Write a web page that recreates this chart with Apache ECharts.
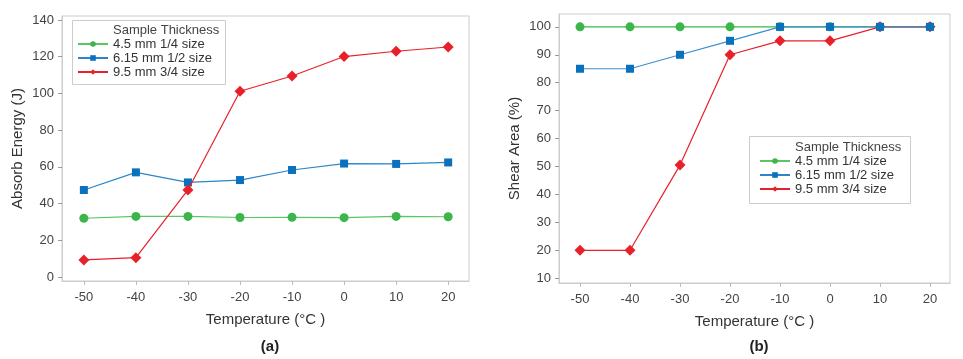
<!DOCTYPE html>
<html><head><meta charset="utf-8">
<script src="https://cdn.jsdelivr.net/npm/echarts@6/dist/echarts.min.js"></script>
<style>html,body{margin:0;padding:0;background:#fff}#c{width:963px;height:359px}</style>
</head><body><div id="c"></div>
<script>
var temps = [-50, -40, -30, -20, -10, 0, 10, 20];
var energy45 = [32, 33, 33, 32.4, 32.5, 32.3, 33, 32.8];
var energy615 = [47.4, 57, 51.5, 52.8, 58.3, 61.8, 61.6, 62.4];
var energy95 = [9.3, 10.5, 47.4, 101.2, 109.5, 120.1, 123, 125.3];
var shear45 = [100, 100, 100, 100, 100, 100, 100, 100];
var shear615 = [85, 85, 90, 95, 100, 100, 100, 100];
var shear95 = [20, 20, 50.5, 90, 95, 95, 100, 100];
var xTicks = [-50, -40, -30, -20, -10, 0, 10, 20];
var energyTicks = [0, 20, 40, 60, 80, 100, 120, 140];
var shearTicks = [10, 20, 30, 40, 50, 60, 70, 80, 90, 100];
var names = ['4.5 mm 1/4 size', '6.15 mm 1/2 size', '9.5 mm 3/4 size'];

function pairs(v){ return temps.map(function(t,i){ return [t, v[i]]; }); }
var FONT = 'Liberation Sans, Arial, sans-serif';
var GREEN = '#3cb54a', BLUE = '#0a72bd', RED = '#e8202a';
var labelStyle = {color:'#444', fontSize:13, fontFamily:FONT};
function xAxis(gi){
  return {type:'value', gridIndex:gi, min:-54.2, max:24.0,
    name:'Temperature (°C )', nameLocation:'middle', nameGap:31,
    nameTextStyle:{color:'#333', fontSize:15, fontFamily:FONT},
    axisLine:{show:true, onZero:false, lineStyle:{color:'#ccc'}},
    axisTick:{show:true, length:4, lineStyle:{color:'#bbb'}, customValues:xTicks},
    axisLabel:Object.assign({margin:10, customValues:xTicks}, labelStyle),
    splitLine:{show:false}};
}
function yAxis(gi, min, max, ticks, name){
  return {type:'value', gridIndex:gi, min:min, max:max,
    name:name, nameLocation:'middle', nameGap:37,
    nameTextStyle:{color:'#333', fontSize:15, fontFamily:FONT},
    axisLine:{show:true, onZero:false, lineStyle:{color:'#ccc'}},
    axisTick:{show:true, length:4, lineStyle:{color:'#999'}, customValues:ticks},
    axisLabel:Object.assign({margin:8, customValues:ticks}, labelStyle),
    splitLine:{show:false}};
}
function ser(name, gi, data, color, lineColor, symbol, size, z){
  return {type:'line', name:name, xAxisIndex:gi, yAxisIndex:gi, data:pairs(data),
    symbol:symbol, symbolSize:size, showAllSymbol:true, z:z,
    itemStyle:{color:color}, lineStyle:{color:lineColor, width:1.2}, emphasis:{disabled:true}};
}
var legendCommon = {orient:'vertical', itemWidth:30, itemHeight:7, itemGap:0, data:names, z:20,
  textStyle:{color:'#333', fontSize:13, lineHeight:14, fontFamily:FONT}, padding:0, selectedMode:false};

var chart = echarts.init(document.getElementById('c'), null, {renderer:'canvas'});
chart.setOption({
  animation:false,
  backgroundColor:'#fff',
  title:[
    {text:'(a)', left:265, top:334, textAlign:'center', textStyle:{fontSize:15, fontWeight:'bold', color:'#222', fontFamily:FONT}},
    {text:'(b)', left:754, top:334, textAlign:'center', textStyle:{fontSize:15, fontWeight:'bold', color:'#222', fontFamily:FONT}}
  ],
  grid:[
    {left:62, right:494, top:16, bottom:78, show:true, borderColor:'#ccc', borderWidth:1, backgroundColor:'transparent'},
    {left:559, right:13, top:14, bottom:76, show:true, borderColor:'#ccc', borderWidth:1, backgroundColor:'transparent'}
  ],
  xAxis:[xAxis(0), xAxis(1)],
  yAxis:[yAxis(0, -2.2, 142.2, energyTicks, 'Absorb Energy (J)'), yAxis(1, 8.3, 104.6, shearTicks, 'Shear Area (%)')],
  legend:[
    Object.assign({left:77, top:37}, legendCommon),
    Object.assign({left:759, top:154}, legendCommon)
  ],
  graphic:[
    {type:'rect', shape:{x:72.5, y:20.5, width:153, height:64}, style:{fill:'#fff', stroke:'#ccc', lineWidth:1}, z:5},
    {type:'text', x:113, y:24, style:{text:'Sample Thickness', fill:'#444', font:'13px '+FONT}, z:6},
    {type:'rect', shape:{x:749.5, y:136.5, width:161, height:67}, style:{fill:'#fff', stroke:'#ccc', lineWidth:1}, z:5},
    {type:'text', x:795, y:141, style:{text:'Sample Thickness', fill:'#444', font:'13px '+FONT}, z:6}
  ],
  series:[
    ser(names[0], 0, energy45, GREEN, '#5cc463', 'circle', 9, 2),
    ser(names[1], 0, energy615, BLUE, '#2a86c8', 'rect', 8, 3),
    ser(names[2], 0, energy95, RED, RED, 'diamond', 11, 4),
    ser(names[0], 1, shear45, GREEN, '#3cb54a', 'circle', 9, 2),
    ser(names[2], 1, shear95, RED, RED, 'diamond', 11, 3),
    ser(names[1], 1, shear615, BLUE, '#3a90cf', 'rect', 8, 4)
  ]
});
</script></body></html>
